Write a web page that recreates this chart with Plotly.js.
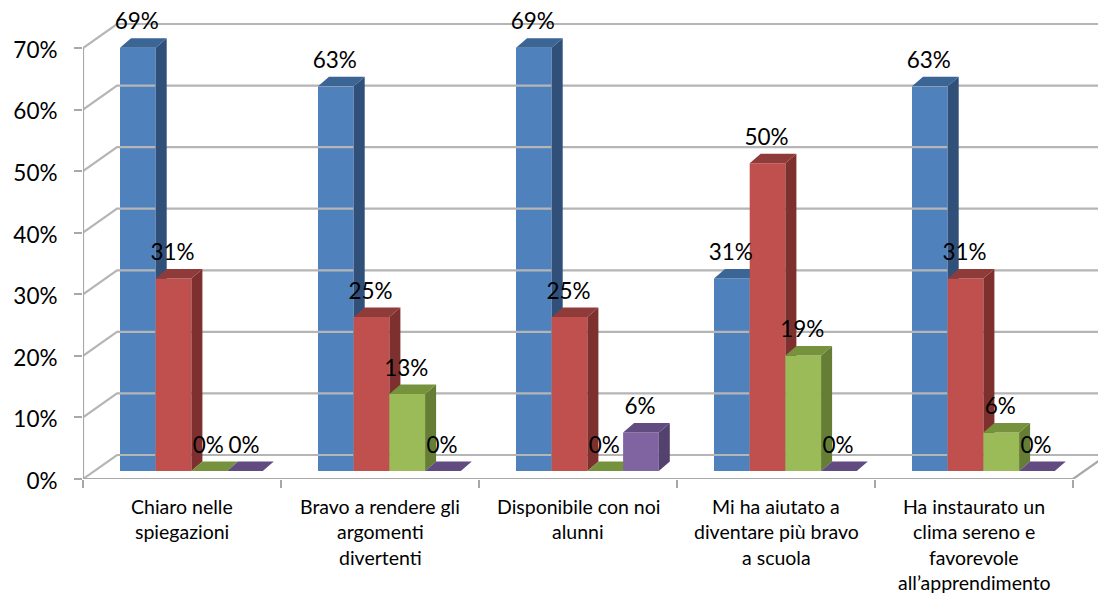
<!DOCTYPE html>
<html>
<head>
<meta charset="utf-8">
<script src="https://cdn.plot.ly/plotly-3.0.1.min.js"></script>
<style>html,body{margin:0;padding:0;background:#fff}</style>
</head>
<body>
<div id="chart" style="width:1098px;height:594px"></div>
<script>
const categories = [
  "Chiaro nelle<br>spiegazioni",
  "Bravo a rendere gli<br>argomenti<br>divertenti",
  "Disponibile con noi<br>alunni",
  "Mi ha aiutato a<br>diventare più bravo<br>a scuola",
  "Ha instaurato un<br>clima sereno e<br>favorevole<br>all’apprendimento"
];
const serie1 = [68.75, 62.5, 68.75, 31.25, 62.5];
const serie2 = [31.25, 25, 25, 50, 31.25];
const serie3 = [0, 12.5, 0, 18.75, 6.25];
const serie4 = [0, 0, 6.25, 0, 0];
const yTickValues = [0, 10, 20, 30, 40, 50, 60, 70];
const yTickLabels = ["0%", "10%", "20%", "30%", "40%", "50%", "60%", "70%"];
const frontColors = ["#4F81BD", "#C0504D", "#9BBB59", "#8064A2"];
const topColors = ["#3A6595", "#8F3B39", "#76923C", "#614B80"];
const sideColors = ["#30507A", "#7E302E", "#657D34", "#54426E"];

const seriesList = [serie1, serie2, serie3, serie4];
const pxX = 198, pxY = 6.157;
const plotW = 1015, plotH = 479;
const xMax = plotW / pxX, yMax = plotH / pxY;
const wallDX = 34 / pxX, wallDY = 24 / pxY;
const barDX = 11 / pxX, barDY = 9.5 / pxY;
const lift = 8 / pxY;
const barStart = 37 / pxX, barW = 35.7 / pxX;
const gridColor = "#B5B5B5";
const axisIds = ["y", "y2", "y3", "y4"];

const traces = [];
const gx = [], gy = [];
yTickValues.forEach(v => {
  gx.push(0, wallDX, xMax, null);
  gy.push(v, v + wallDY, v + wallDY, null);
});
traces.push({type: "scatter", mode: "lines", x: gx, y: gy, yaxis: "y", hoverinfo: "skip", showlegend: false,
  line: {color: gridColor, width: 2.2}});
traces.push({type: "scatter", mode: "lines", yaxis: "y", hoverinfo: "skip", showlegend: false,
  x: [0, 0, null, 0, 5, 5 + wallDX], y: [0, 70, null, 0, 0, wallDY],
  line: {color: "#A8A8A8", width: 2.2}, cliponaxis: false});

seriesList.forEach((vals, k) => {
  const xs = vals.map((v, i) => i + barStart + (k + 0.5) * barW);
  traces.push({type: "bar", name: "Serie " + (k + 1), x: xs, y: vals, base: lift, width: barW,
    yaxis: axisIds[k], marker: {color: frontColors[k], line: {width: 0}}, showlegend: false, hoverinfo: "skip"});
  const sx = [], sy = [], tx = [], ty = [];
  vals.forEach((v, i) => {
    const l = xs[i] - barW / 2, r = xs[i] + barW / 2, top = lift + v;
    sx.push(r, r + barDX, r + barDX, r, r, null);
    sy.push(lift, lift + barDY, top + barDY, top, lift, null);
    tx.push(l, l + barDX, r + barDX, r, l, null);
    ty.push(top, top + barDY, top + barDY, top, top, null);
  });
  traces.push({type: "scatter", mode: "lines", x: sx, y: sy, yaxis: axisIds[k], fill: "toself", fillcolor: sideColors[k],
    line: {width: 0, color: sideColors[k]}, hoverinfo: "skip", showlegend: false});
  traces.push({type: "scatter", mode: "lines", x: tx, y: ty, yaxis: axisIds[k], fill: "toself", fillcolor: topColors[k],
    line: {width: 0, color: topColors[k]}, hoverinfo: "skip", showlegend: false});
});

seriesList.forEach((vals, k) => {
  traces.push({type: "scatter", mode: "text", yaxis: "y4", hoverinfo: "skip", showlegend: false, cliponaxis: false,
    x: vals.map((v, i) => i + barStart + (k + 0.5) * barW - 1 / pxX),
    y: vals.map(v => lift + v + 24 / pxY),
    text: vals.map(v => Math.round(v) + "%"),
    textposition: "middle center",
    textfont: {family: "Lato", size: 22.5, color: "#000"}});
});

const lineGap = 25.3, firstLine = 27.5;
const annotations = [];
categories.forEach((c, i) => {
  c.split("<br>").forEach((line, j) => {
    annotations.push({text: line, x: i + 0.5, y: 0, xref: "x", yref: "y", showarrow: false,
      xanchor: "center", yanchor: "middle", yshift: -(firstLine + j * lineGap),
      font: {family: "Lato", size: 19.5, color: "#000"}});
  });
});

const overlay = () => ({overlaying: "y", range: [0, yMax], visible: false, anchor: "x", fixedrange: true});
const layout = {
  width: 1098, height: 594,
  margin: {l: 83, r: 0, t: 0, b: 115, pad: 0},
  paper_bgcolor: "#fff", plot_bgcolor: "#fff",
  barmode: "overlay", showlegend: false,
  font: {family: "Lato", color: "#000"},
  xaxis: {range: [0, xMax], tickmode: "array", tickvals: [0, 1, 2, 3, 4, 5], ticktext: ["", "", "", "", "", ""],
    ticks: "outside", ticklen: 8, tickwidth: 2, tickcolor: "#A8A8A8", showgrid: false, zeroline: false, showline: false, fixedrange: true},
  yaxis: {range: [0, yMax], tickmode: "array", tickvals: yTickValues, ticktext: yTickLabels,
    ticks: "outside", ticklen: 8, tickwidth: 2, tickcolor: "#A8A8A8", ticklabelstandoff: 12, ticklabelshift: 2,
    tickfont: {family: "Lato", size: 22.5, color: "#000"},
    showgrid: false, zeroline: false, showline: false, fixedrange: true},
  yaxis2: overlay(), yaxis3: overlay(), yaxis4: overlay(),
  annotations: annotations
};
Plotly.newPlot("chart", traces, layout, {displayModeBar: false, staticPlot: true});
</script>
</body>
</html>
